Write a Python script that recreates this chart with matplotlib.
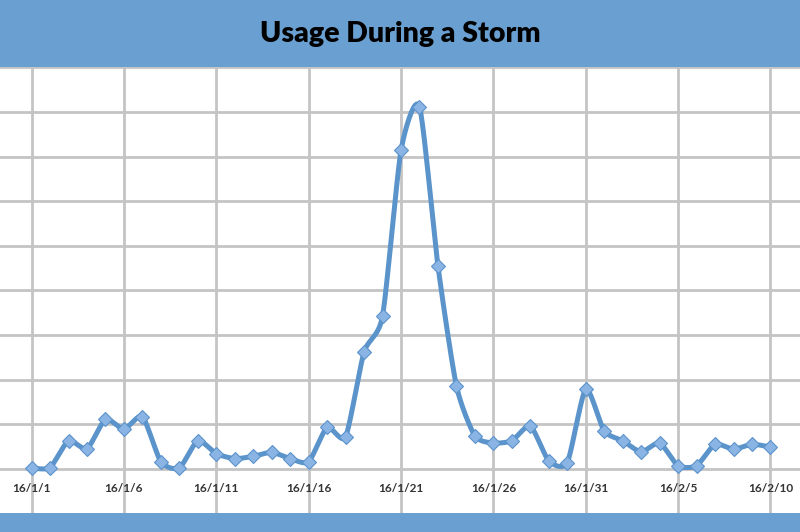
import numpy as np
import matplotlib.pyplot as plt
from matplotlib.patches import Rectangle

# daily usage, 2016-01-01 .. 2016-02-10 (one gridline = 10 units)
days = list(range(41))
usage = [0.2, 0.3, 6.3, 4.5, 11.1, 8.9, 11.7, 1.6, 0.2, 6.3,
         3.4, 2.3, 2.8, 3.7, 2.3, 1.6, 9.3, 7.2, 26.2, 34.3,
         71.4, 81.2, 45.5, 18.6, 7.4, 5.8, 6.3, 9.6, 1.8, 1.4,
         17.9, 8.5, 6.3, 3.8, 5.8, 0.7, 0.7, 5.5, 4.4, 5.5, 4.9]
tick_days = [0, 5, 10, 15, 20, 25, 30, 35, 40]
tick_labels = ['16/1/1', '16/1/6', '16/1/11', '16/1/16', '16/1/21',
               '16/1/26', '16/1/31', '16/2/5', '16/2/10']

band = '#6a9fd1'
line_col = '#5b93cb'
marker_col = '#8ab4e3'
grid_col = '#c4c4c4'


def smooth(x, y, n=20, k=0.33):
    # cardinal spline through the points (like Excel's smoothed line)
    x = np.asarray(x, float)
    y = np.asarray(y, float)
    px = np.concatenate([[x[0]], x, [x[-1]]])
    py = np.concatenate([[y[0]], y, [y[-1]]])
    xs, ys = [], []
    t = np.linspace(0, 1, n, endpoint=False)
    h00 = 2 * t ** 3 - 3 * t ** 2 + 1
    h10 = t ** 3 - 2 * t ** 2 + t
    h01 = -2 * t ** 3 + 3 * t ** 2
    h11 = t ** 3 - t ** 2
    for i in range(1, len(px) - 2):
        for arr, out in ((px, xs), (py, ys)):
            p0, p1, p2, p3 = arr[i - 1], arr[i], arr[i + 1], arr[i + 2]
            m1 = k * (p2 - p0)
            m2 = k * (p3 - p1)
            out.extend(h00 * p1 + h10 * m1 + h01 * p2 + h11 * m2)
    xs.append(x[-1])
    ys.append(y[-1])
    return np.array(xs), np.array(ys)


fig = plt.figure(figsize=(8, 5.32), dpi=100)
fig.patch.set_facecolor('white')

# plot area
ax = fig.add_axes([0, 19 / 532, 1, (513 - 67) / 532])
ax.set_xlim(-1.71, 41.6)
ax.set_ylim(-9.9, 90.1)
ax.set_xticks(tick_days)
ax.set_yticks(np.arange(0, 91, 10))
ax.tick_params(length=0, labelbottom=False, labelleft=False)
ax.grid(True, color=grid_col, linewidth=2)
for s in ax.spines.values():
    s.set_visible(False)
ax.set_axisbelow(True)

sx, sy = smooth(days, usage)
ax.plot(sx, sy, color=line_col, linewidth=3.6, solid_capstyle='round',
        solid_joinstyle='round', zorder=3)
ax.plot(days, usage, linestyle='none', marker='D', markersize=7,
        markerfacecolor=marker_col, markeredgecolor=line_col,
        markeredgewidth=0.8, zorder=4)

for d, lab in zip(tick_days, tick_labels):
    ax.text(d, -4.3, lab, ha='center', va='center', fontsize=8.5,
            fontweight='bold', color='#333333', family='Lato')

# title band and bottom band
fig.patches.append(Rectangle((0, 1 - 67 / 532), 1, 67 / 532,
                             transform=fig.transFigure, facecolor=band,
                             edgecolor='none', zorder=5))
fig.patches.append(Rectangle((0, 0), 1, 19 / 532,
                             transform=fig.transFigure, facecolor=band,
                             edgecolor='none', zorder=5))
fig.text(0.5, 1 - 34 / 532, 'Usage During a Storm', ha='center', va='center',
         fontsize=20.5, fontweight='heavy', color='black', family='Lato',
         zorder=6)

fig.savefig('out.png', dpi=100)
